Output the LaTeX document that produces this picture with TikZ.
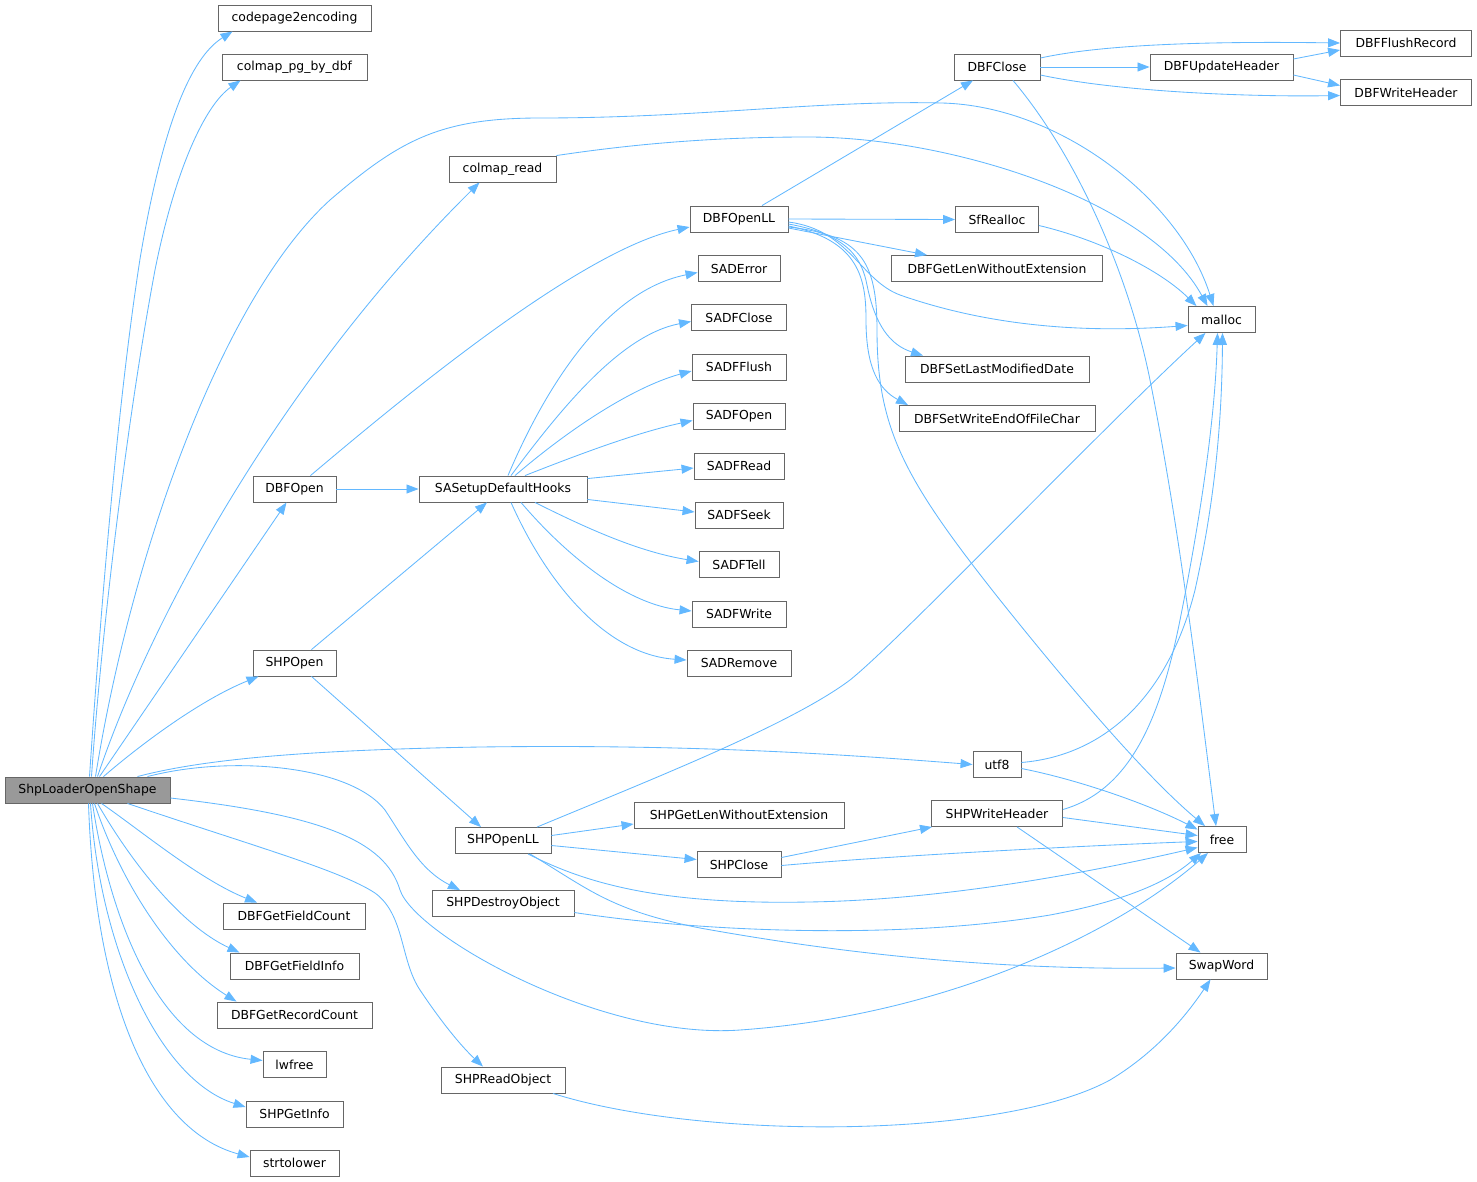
\documentclass[tikz,border=0pt]{standalone}
\usepackage{fontspec}
\setmainfont{DejaVu Sans}
\usetikzlibrary{arrows.meta}
\definecolor{edgec}{HTML}{63B8FF}
\definecolor{bordc}{HTML}{666666}
\definecolor{rootc}{HTML}{999999}
\begin{document}
\begin{tikzpicture}[x=1pt,y=-1pt,
  fn/.style={draw=bordc, line width=0.9pt, minimum height=26pt, inner sep=0pt, fill=white,
     font=\fontsize{12.4}{14}\selectfont, text=black},
  rootn/.style={fn, fill=rootc},
  ed/.style={draw=edgec, line width=0.85pt, -{Triangle[length=12pt,width=9pt]}}]
\useasboundingbox (0,0) rectangle (1477,1181);
% nodes
\node[rootn, minimum width=165pt] (root) at (87.5,790) {ShpLoaderOpenShape};
\node[fn, minimum width=153pt] (cp) at (294.5,18) {codepage2encoding};
\node[fn, minimum width=145pt] (cm) at (294.5,67) {colmap\_pg\_by\_dbf};
\node[fn, minimum width=107pt] (cr) at (502.5,169) {colmap\_read};
\node[fn, minimum width=83pt] (dbfopen) at (294.5,489) {DBFOpen};
\node[fn, minimum width=83pt] (shpopen) at (294.5,663) {SHPOpen};
\node[fn, minimum width=142pt] (gfc) at (294,916) {DBFGetFieldCount};
\node[fn, minimum width=129pt] (gfi) at (294.5,966) {DBFGetFieldInfo};
\node[fn, minimum width=155pt] (grc) at (294.5,1015) {DBFGetRecordCount};
\node[fn, minimum width=63pt] (lwfree) at (294.5,1064.5) {lwfree};
\node[fn, minimum width=97pt] (gi) at (294.5,1114) {SHPGetInfo};
\node[fn, minimum width=89pt] (stl) at (294.5,1163) {strtolower};
\node[fn, minimum width=168pt] (sa) at (503,489) {SASetupDefaultHooks};
\node[fn, minimum width=96pt] (shpll) at (503,840.5) {SHPOpenLL};
\node[fn, minimum width=142pt] (sdo) at (503,903.5) {SHPDestroyObject};
\node[fn, minimum width=124pt] (sro) at (503,1080) {SHPReadObject};
\node[fn, minimum width=98pt] (dbfll) at (739,219) {DBFOpenLL};
\node[fn, minimum width=82pt] (saderr) at (739,268.5) {SADError};
\node[fn, minimum width=95pt] (sadfc) at (739,317.5) {SADFClose};
\node[fn, minimum width=94pt] (sadff) at (739,367) {SADFFlush};
\node[fn, minimum width=92pt] (sadfo) at (739,416.5) {SADFOpen};
\node[fn, minimum width=90pt] (sadfr) at (739,466) {SADFRead};
\node[fn, minimum width=88pt] (sadfs) at (739,515) {SADFSeek};
\node[fn, minimum width=80pt] (sadft) at (739,564.5) {SADFTell};
\node[fn, minimum width=94pt] (sadfw) at (739,614) {SADFWrite};
\node[fn, minimum width=104pt] (sadrm) at (739,663) {SADRemove};
\node[fn, minimum width=210pt] (sgl) at (739,815) {SHPGetLenWithoutExtension};
\node[fn, minimum width=84pt] (shpclose) at (739,864.5) {SHPClose};
\node[fn, minimum width=86pt] (dbfclose) at (997,67) {DBFClose};
\node[fn, minimum width=83pt] (sfr) at (997,219.5) {SfRealloc};
\node[fn, minimum width=211pt] (dgl) at (997,268.5) {DBFGetLenWithoutExtension};
\node[fn, minimum width=184pt] (dslm) at (997,369) {DBFSetLastModifiedDate};
\node[fn, minimum width=196pt] (dswe) at (997,418.5) {DBFSetWriteEndOfFileChar};
\node[fn, minimum width=48pt] (utf) at (997,764.5) {utf8};
\node[fn, minimum width=131pt] (swh) at (997,813.5) {SHPWriteHeader};
\node[fn, minimum width=143pt] (duh) at (1221.5,67) {DBFUpdateHeader};
\node[fn, minimum width=67pt] (malloc) at (1221.5,319.5) {malloc};
\node[fn, minimum width=48pt] (free) at (1222,839.5) {free};
\node[fn, minimum width=91pt] (swap) at (1221.5,966) {SwapWord};
\node[fn, minimum width=131pt] (dfr) at (1406,43) {DBFFlushRecord};
\node[fn, minimum width=131pt] (dwh) at (1406,92.5) {DBFWriteHeader};
% edges from root
\draw[ed] ([xshift=2pt]root.north) .. controls (98,650) and (115,420) .. (140,259) .. controls (165,110) and (195,55) .. ([xshift=-62pt]cp.south);
\draw[ed] ([xshift=4pt]root.north) .. controls (100,650) and (125,430) .. (155,270) .. controls (175,170) and (205,105) .. ([xshift=-54pt]cm.south);
\draw[ed] ([xshift=8pt]root.north) .. controls (130,560) and (220,300) .. (330,200) .. controls (400,140) and (440,118) .. (540,118) .. controls (700,118) and (820,100) .. (942,103) .. controls (1060,106) and (1180,200) .. ([xshift=-8pt]malloc.north);
\draw[ed] ([xshift=10pt]root.north) .. controls (150,620) and (280,380) .. ([xshift=-23pt]cr.south);
\draw[ed] ([xshift=12pt]root.north) -- ([xshift=-8pt]dbfopen.south);
\draw[ed] ([xshift=16pt]root.north) .. controls (140,745) and (200,700) .. ([xshift=-36pt]shpopen.south);
\draw[ed] ([xshift=50pt]root.north) .. controls (200,760) and (300,750) .. (480,747) .. controls (700,744) and (850,755) .. (utf.west);
\draw[ed] ([xshift=60pt]root.north) .. controls (230,755) and (350,765) .. (385,810) .. controls (405,840) and (420,870) .. ([xshift=-43pt]sdo.north);
\draw[ed] ([yshift=-8pt]root.east) .. controls (320,815) and (385,840) .. (400,890) .. controls (415,935) and (600,1040) .. (740,1030) .. controls (950,1015) and (1120,930) .. ([xshift=-14pt]free.south);
\draw[ed] ([xshift=40pt]root.south) .. controls (250,845) and (340,870) .. (375,893) .. controls (405,915) and (400,960) .. (420,990) .. controls (440,1020) and (460,1045) .. ([xshift=-20pt]sro.north);
\draw[ed] ([xshift=14pt]root.south) .. controls (140,830) and (200,880) .. ([xshift=-37pt]gfc.north);
\draw[ed] ([xshift=10pt]root.south) .. controls (130,860) and (180,925) .. ([xshift=-55pt]gfi.north);
\draw[ed] ([xshift=7pt]root.south) .. controls (120,880) and (170,960) .. ([xshift=-58pt]grc.north);
\draw[ed] ([xshift=5pt]root.south) .. controls (110,920) and (160,1050) .. ([yshift=4pt]lwfree.west);
\draw[ed] ([xshift=3pt]root.south) .. controls (100,950) and (160,1080) .. ([yshift=7pt]gi.west);
\draw[ed] ([xshift=1pt]root.south) .. controls (95,1000) and (150,1130) .. ([yshift=6pt]stl.west);
% DBFOpen / SHPOpen
\draw[ed] (dbfopen.east) -- (sa.west);
\draw[ed] ([xshift=16pt]dbfopen.north) .. controls (400,400) and (580,250) .. ([yshift=-8pt]dbfll.west);
\draw[ed] ([xshift=17pt]shpopen.north) -- ([xshift=-16pt]sa.south);
\draw[ed] ([xshift=17pt]shpopen.south) -- ([xshift=-22pt]shpll.north);
% SASetupDefaultHooks
\draw[ed] ([xshift=5pt]sa.north) .. controls (540,400) and (600,292) .. ([yshift=-4pt]saderr.west);
\draw[ed] ([xshift=8pt]sa.north) .. controls (560,410) and (620,335) .. ([yshift=-4pt]sadfc.west);
\draw[ed] ([xshift=12pt]sa.north) .. controls (580,420) and (640,385) .. ([yshift=-4pt]sadff.west);
\draw[ed] ([xshift=22pt]sa.north) .. controls (590,450) and (640,432) .. ([yshift=-4pt]sadfo.west);
\draw[ed] ([yshift=-3pt]sa.north east) -- ([yshift=-2pt]sadfr.west);
\draw[ed] ([yshift=3pt]sa.south east) -- ([yshift=3pt]sadfs.west);
\draw[ed] ([xshift=32pt]sa.south) .. controls (590,530) and (640,552) .. ([yshift=3pt]sadft.west);
\draw[ed] ([xshift=18pt]sa.south) .. controls (570,560) and (630,605) .. ([yshift=3pt]sadfw.west);
\draw[ed] ([xshift=8pt]sa.south) .. controls (550,590) and (610,655) .. ([yshift=3pt]sadrm.west);
% DBFOpenLL
\draw[ed] ([xshift=23pt]dbfll.north) -- ([xshift=-24pt]dbfclose.south);
\draw[ed] (dbfll.east) -- (sfr.west);
\draw[ed] ([yshift=-9pt]dbfll.east) -- ([xshift=-70pt]dgl.north);
\draw[ed] ([yshift=-3pt]dbfll.east) .. controls (850,230) and (860,280) .. (900,295) .. controls (1000,330) and (1100,332) .. ([yshift=-6pt]malloc.west);
\draw[ed] ([yshift=-5pt]dbfll.east) .. controls (850,235) and (862,260) .. (867,285) .. controls (875,325) and (890,345) .. ([xshift=-74pt]dslm.north);
\draw[ed] ([yshift=-7pt]dbfll.east) .. controls (860,240) and (866,280) .. (866,320) .. controls (866,370) and (880,390) .. ([xshift=-89pt]dswe.north);
\draw[ed] ([yshift=-8pt]dbfll.east) .. controls (860,235) and (877,260) .. (877,330) .. controls (877,430) and (905,480) .. (1000,600) .. controls (1080,700) and (1150,780) .. ([xshift=-17pt]free.north);
% DBFClose
\draw[ed] ([yshift=9pt]dbfclose.east) .. controls (1100,45) and (1200,41) .. (dfr.west);
\draw[ed] (dbfclose.east) -- (duh.west);
\draw[ed] ([yshift=-8pt]dbfclose.east) .. controls (1120,92) and (1250,97) .. ([yshift=-3pt]dwh.west);
\draw[ed] ([xshift=16pt]dbfclose.south) .. controls (1080,160) and (1130,280) .. (1150,380) .. controls (1180,530) and (1200,700) .. ([xshift=-6pt]free.north);
\draw[ed] ([yshift=8pt]duh.east) -- ([yshift=-7pt]dfr.west);
\draw[ed] ([yshift=-8pt]duh.east) -- ([yshift=7pt]dwh.west);
% to malloc
\draw[ed] ([yshift=-6pt]sfr.east) .. controls (1100,240) and (1160,270) .. ([xshift=-25pt]malloc.north);
\draw[ed] (cr.north east) .. controls (640,143) and (720,137) .. (808,137) .. controls (950,137) and (1150,200) .. ([xshift=-14pt]malloc.north);
% SHPOpenLL
\draw[ed] ([xshift=34pt]shpll.north) .. controls (650,780) and (790,725) .. (850,680) .. controls (900,640) and (1100,430) .. ([xshift=-16pt]malloc.south);
\draw[ed] ([yshift=5pt]shpll.east) -- ([yshift=-9pt]sgl.west);
\draw[ed] ([yshift=-5pt]shpll.east) -- ([yshift=5pt]shpclose.west);
\draw[ed] ([xshift=25pt]shpll.south) .. controls (580,880) and (650,905) .. (808,902) .. controls (950,900) and (1100,870) .. ([yshift=-8pt]free.west);
\draw[ed] ([xshift=27pt]shpll.south) .. controls (590,890) and (610,910) .. (700,928) .. controls (850,955) and (1000,970) .. ([yshift=-2pt]swap.west);
% SHPClose
\draw[ed] ([yshift=7pt]shpclose.east) -- ([xshift=-65pt]swh.south);
\draw[ed] ([yshift=-1pt]shpclose.east) .. controls (900,855) and (1100,845) .. ([yshift=-2pt]free.west);
% SHPDestroyObject, SHPReadObject
\draw[ed] ([yshift=-9pt]sdo.east) .. controls (700,932) and (900,940) .. (1050,915) .. controls (1130,900) and (1170,880) .. ([xshift=-21pt]free.south);
\draw[ed] ([xshift=50pt]sro.south) .. controls (700,1140) and (1000,1140) .. (1110,1080) .. controls (1160,1050) and (1190,1010) .. ([xshift=-11pt]swap.south);
% utf8
\draw[ed] ([yshift=2pt]utf.east) .. controls (1110,755) and (1170,690) .. (1195,590) .. controls (1215,500) and (1222,420) .. ([xshift=1pt]malloc.south);
\draw[ed] ([yshift=-4pt]utf.east) .. controls (1080,780) and (1150,805) .. ([yshift=10pt]free.west);
% SHPWriteHeader
\draw[ed] ([yshift=4pt]swh.east) .. controls (1130,790) and (1160,720) .. (1180,620) .. controls (1200,520) and (1215,420) .. ([xshift=-4pt]malloc.south);
\draw[ed] ([yshift=-4pt]swh.east) -- ([yshift=4pt]free.west);
\draw[ed] ([xshift=20pt]swh.south) -- ([xshift=-21pt]swap.north);
\end{tikzpicture}
\end{document}
